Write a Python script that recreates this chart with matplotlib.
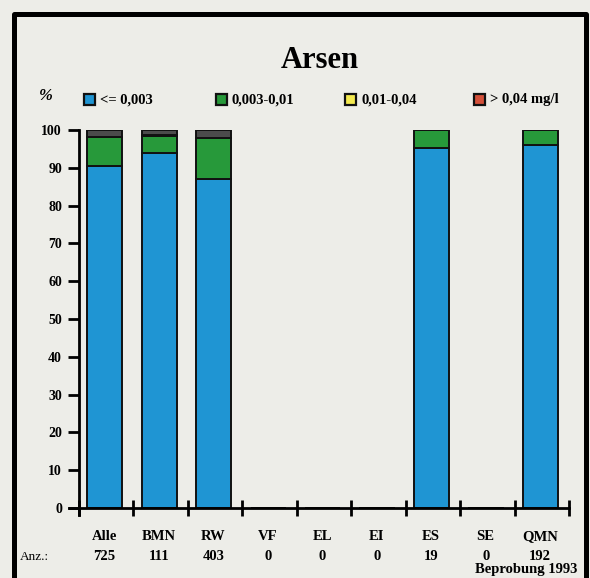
import matplotlib
matplotlib.use("Agg")
import matplotlib.pyplot as plt
from matplotlib.patches import Rectangle
from matplotlib.lines import Line2D
import numpy as np

categories = ["Alle", "BMN", "RW", "VF", "EL", "EI", "ES", "SE", "QMN"]
counts = ["725", "111", "403", "0", "0", "0", "19", "0", "192"]
blue_vals = [90.5, 94.0, 87.0, 0, 0, 0, 95.2, 0, 96.0]
green_vals = [7.6, 4.3, 11.0, 0, 0, 0, 4.8, 0, 4.0]
yellow_vals = [0.0, 0.4, 0.0, 0, 0, 0, 0, 0, 0]
red_vals = [1.9, 1.3, 2.0, 0, 0, 0, 0, 0, 0]
legend_labels = ["<= 0,003", "0,003-0,01", "0,01-0,04", "> 0,04 mg/l"]
yticks = [0, 10, 20, 30, 40, 50, 60, 70, 80, 90, 100]

BG = "#ededE8"
C_BLUE = "#1f95d3"
C_GREEN = "#27993a"
C_YELLOW = "#f4ea50"
C_RED = "#d4503a"
C_TOPBAR = "#4b4b4b"
SERIF = ["Liberation Serif", "DejaVu Serif"]

W, H = 590, 578
fig = plt.figure(figsize=(W / 100, H / 100), dpi=100, facecolor=BG)

def fx(px):
    return px / W

def fy(py):
    return 1 - py / H

# frame
fig.add_artist(Line2D([fx(13.5), fx(13.5), fx(585.5), fx(585.5)],
                      [fy(600), fy(13.5), fy(13.5), fy(600)],
                      transform=fig.transFigure, color="black", lw=3.6))

left, right, top, bottom = 78.6, 569, 130, 508
ax = fig.add_axes([fx(left), fy(bottom), fx(right - left), (bottom - top) / H])
ax.set_facecolor("none")
ax.set_xlim(0, 9)
ax.set_ylim(0, 100)

x = np.arange(len(categories)) + 0.48
bw = 0.65
b = np.zeros(len(categories))
for vals, col in [(blue_vals, C_BLUE), (green_vals, C_GREEN),
                  (yellow_vals, C_YELLOW), (red_vals, C_TOPBAR)]:
    v = np.array(vals, dtype=float)
    ax.bar(x, v, bw, bottom=b, color=col, edgecolor="#111111", linewidth=1.4)
    b += v

for s in ["top", "right"]:
    ax.spines[s].set_visible(False)
for s in ["left", "bottom"]:
    ax.spines[s].set_linewidth(2)

ax.set_yticks(yticks)
ax.set_yticklabels([str(t) for t in yticks], fontfamily=SERIF,
                   fontweight="bold", fontsize=10)
ax.tick_params(axis="y", direction="out", length=8, width=2, pad=4)
ax.set_xticks(np.arange(0, 10))
ax.set_xticklabels([])
ax.tick_params(axis="x", direction="inout", length=12, width=2)

# axis extensions
ax.plot([-0.17, 0], [0, 0], color="black", lw=2, clip_on=False)
ax.plot([0, 0], [-1.8, 0], color="black", lw=2, clip_on=False)

for i, (c, n) in enumerate(zip(categories, counts)):
    xf = fx(left + (i + 0.47) * (right - left) / 9)
    fig.text(xf, fy(537), c, ha="center", va="center", fontfamily=SERIF,
             fontweight="bold", fontsize=10.5)
    fig.text(xf, fy(557), n, ha="center", va="center", fontfamily=SERIF,
             fontweight="bold", fontsize=10.5)

fig.text(fx(20), fy(557), "Anz.:", ha="left", va="center", fontfamily=SERIF,
         fontsize=9.5)
fig.text(fx(577), fy(570), "Beprobung 1993", ha="right", va="center",
         fontfamily=SERIF, fontweight="bold", fontsize=10.5)

fig.text(fx(320), fy(61), "Arsen", ha="center", va="center", fontfamily=SERIF,
         fontweight="bold", fontsize=22)
fig.text(fx(39), fy(96), "%", ha="left", va="center", fontfamily=SERIF,
         fontweight="bold", fontstyle="italic", fontsize=12)

# legend
leg_cols = [C_BLUE, C_GREEN, C_YELLOW, C_RED]
sq_x = [84, 216, 345, 474]
for sx, col, lab in zip(sq_x, leg_cols, legend_labels):
    fig.add_artist(Rectangle((fx(sx), fy(105)), 11 / W, 11 / H,
                             transform=fig.transFigure, facecolor=col,
                             edgecolor="#111111", linewidth=1.6))
    fig.text(fx(sx + 16), fy(100), lab, ha="left", va="center",
             fontfamily=SERIF, fontweight="bold", fontsize=10.5)

fig.savefig("out.png", dpi=100, facecolor=BG)
